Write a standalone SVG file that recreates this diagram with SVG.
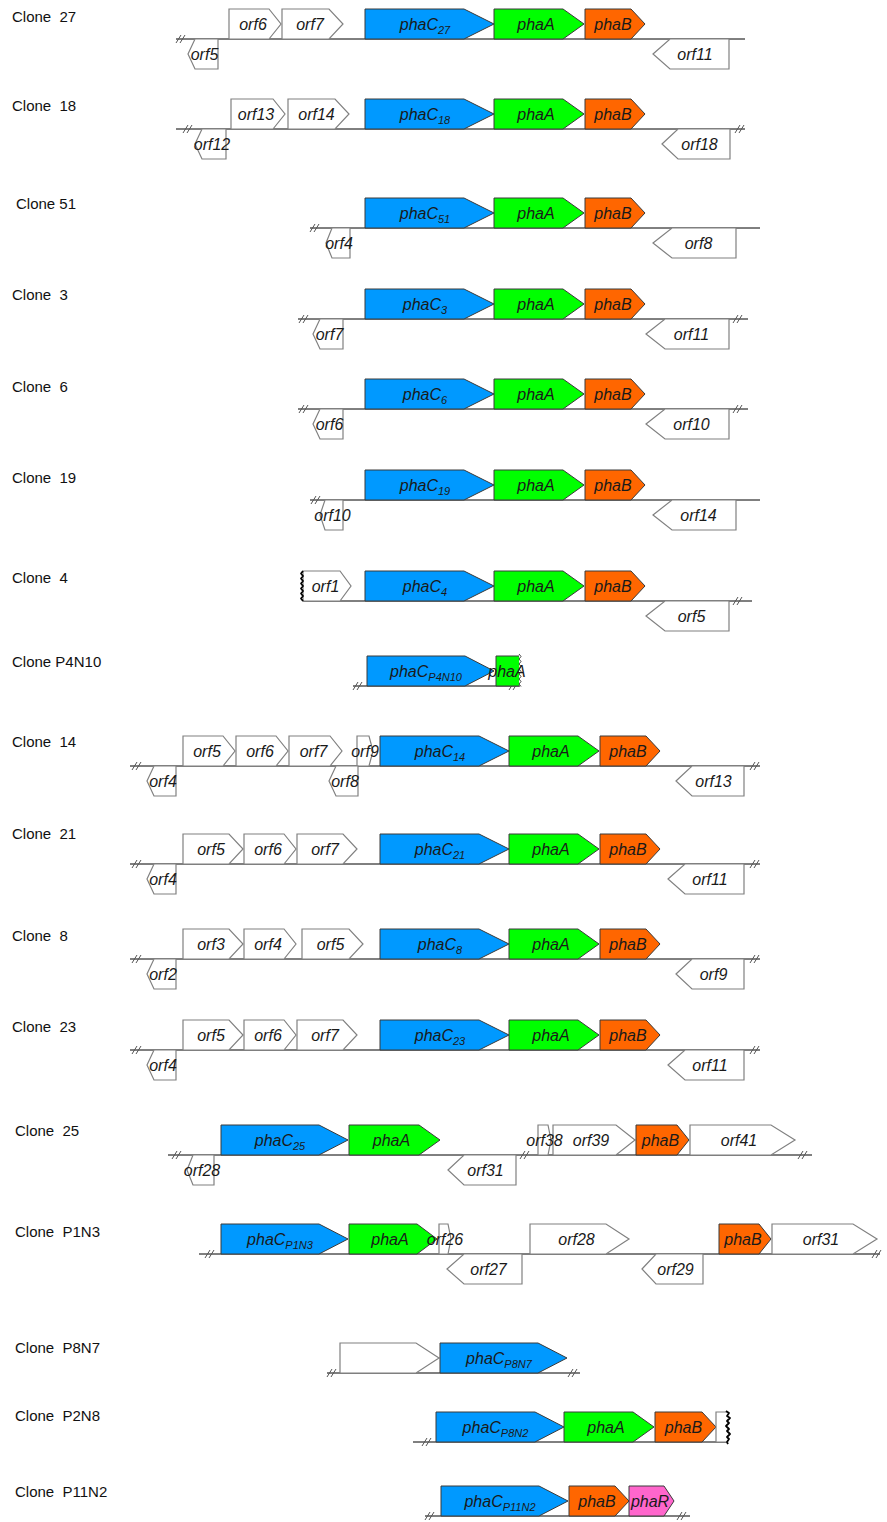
<svg xmlns="http://www.w3.org/2000/svg" width="887" height="1522" viewBox="0 0 887 1522">
<style>
  .bb{stroke:#000;stroke-width:1;fill:none}
  .brk{stroke:#555;stroke-width:1;fill:none}
  .w{fill:#fff;stroke:#808080;stroke-width:1.2}
  .c{fill:#0099ff;stroke:#3a3a3a;stroke-width:1}
  .a{fill:#00ff00;stroke:#3a3a3a;stroke-width:1}
  .b{fill:#ff6600;stroke:#3a3a3a;stroke-width:1}
  .r{fill:#ff66cc;stroke:#3a3a3a;stroke-width:1}
  .t{font-family:"Liberation Sans",Arial,sans-serif;font-style:italic;font-size:16px;fill:#1a1a1a;text-anchor:middle}
  .sub{font-size:11px}
  .lbl{font-family:"Liberation Sans",Arial,sans-serif;font-size:15px;fill:#111}
  .wave{stroke:#000;stroke-width:1.8;fill:none;stroke-linejoin:round}
  .wave2{stroke:#444;stroke-width:1;fill:none}
</style>
<defs>
  <path id="brk" class="brk" d="M-5,4 L0,-4 M-1,4 L4,-4"/>
</defs>

<!-- DNA backbones with break marks -->
<g id="backbones">
  <line class="bb" x1="176" y1="39" x2="745" y2="39"/>
  <use href="#brk" x="181" y="39"/>
  <line class="bb" x1="176" y1="129" x2="745" y2="129"/>
  <use href="#brk" x="188" y="129"/><use href="#brk" x="740" y="129"/>
  <line class="bb" x1="310" y1="228" x2="760" y2="228"/>
  <use href="#brk" x="315" y="228"/>
  <line class="bb" x1="298" y1="319" x2="748" y2="319"/>
  <use href="#brk" x="304" y="319"/><use href="#brk" x="738" y="319"/>
  <line class="bb" x1="298" y1="409" x2="748" y2="409"/>
  <use href="#brk" x="304" y="409"/><use href="#brk" x="738" y="409"/>
  <line class="bb" x1="310" y1="500" x2="760" y2="500"/>
  <use href="#brk" x="316" y="500"/>
  <line class="bb" x1="303" y1="601" x2="752" y2="601"/>
  <use href="#brk" x="738" y="601"/>
  <line class="bb" x1="353" y1="686" x2="520" y2="686"/>
  <use href="#brk" x="358" y="686"/><use href="#brk" x="514" y="686"/>
  <line class="bb" x1="130" y1="766" x2="760" y2="766"/>
  <use href="#brk" x="137" y="766"/><use href="#brk" x="755" y="766"/>
  <line class="bb" x1="130" y1="864" x2="760" y2="864"/>
  <use href="#brk" x="137" y="864"/><use href="#brk" x="755" y="864"/>
  <line class="bb" x1="130" y1="959" x2="760" y2="959"/>
  <use href="#brk" x="137" y="959"/><use href="#brk" x="755" y="959"/>
  <line class="bb" x1="130" y1="1050" x2="760" y2="1050"/>
  <use href="#brk" x="137" y="1050"/><use href="#brk" x="755" y="1050"/>
  <line class="bb" x1="168" y1="1155" x2="812" y2="1155"/>
  <use href="#brk" x="177" y="1155"/><use href="#brk" x="525" y="1155"/><use href="#brk" x="803" y="1155"/>
  <line class="bb" x1="199" y1="1254" x2="880" y2="1254"/>
  <use href="#brk" x="210" y="1254"/><use href="#brk" x="877" y="1254"/>
  <line class="bb" x1="327" y1="1373" x2="580" y2="1373"/>
  <use href="#brk" x="332" y="1373"/><use href="#brk" x="573" y="1373"/>
  <line class="bb" x1="413" y1="1442" x2="726" y2="1442"/>
  <use href="#brk" x="427" y="1442"/>
  <line class="bb" x1="425" y1="1516" x2="690" y2="1516"/>
  <use href="#brk" x="430" y="1516"/><use href="#brk" x="682" y="1516"/>
</g>

<!-- Clone 27 -->
<g id="clone-27" transform="translate(0,9)">
  <text class="lbl" x="12" y="13">Clone&#160; 27</text>
  <g id="c27-orf6"><polygon class="w" points="229,0 269,0 281,15 269,30 229,30"/><text class="t" x="253" y="20.5">orf6</text></g>
  <g id="c27-orf7"><polygon class="w" points="282,0 329,0 343,15 329,30 282,30"/><text class="t" x="310" y="20.5">orf7</text></g>
  <g id="c27-phaC"><polygon class="c" points="365,0 464,0 494,15 464,30 365,30"/><text class="t" x="425" y="20.5">phaC<tspan class="sub" dy="4">27</tspan></text></g>
  <g id="c27-phaA"><polygon class="a" points="494,0 563,0 584,15 563,30 494,30"/><text class="t" x="536" y="20.5">phaA</text></g>
  <g id="c27-phaB"><polygon class="b" points="585,0 631,0 645,15 631,30 585,30"/><text class="t" x="613" y="20.5">phaB</text></g>
  <g id="c27-orf5"><polygon class="w" points="188,45 195,30 218,30 218,60 195,60"/><text class="t" x="204.5" y="50.5">orf5</text></g>
  <g id="c27-orf11"><polygon class="w" points="653,45 670,30 729,30 729,60 670,60"/><text class="t" x="695" y="50.5">orf11</text></g>
</g>

<!-- Clone 18 -->
<g id="clone-18" transform="translate(0,99)">
  <text class="lbl" x="12" y="12">Clone&#160; 18</text>
  <g id="c18-orf13"><polygon class="w" points="231,0 273,0 285,15 273,30 231,30"/><text class="t" x="256" y="20.5">orf13</text></g>
  <g id="c18-orf14"><polygon class="w" points="288,0 335,0 349,15 335,30 288,30"/><text class="t" x="316.5" y="20.5">orf14</text></g>
  <g id="c18-phaC"><polygon class="c" points="365,0 464,0 494,15 464,30 365,30"/><text class="t" x="425" y="20.5">phaC<tspan class="sub" dy="4">18</tspan></text></g>
  <g id="c18-phaA"><polygon class="a" points="494,0 563,0 584,15 563,30 494,30"/><text class="t" x="536" y="20.5">phaA</text></g>
  <g id="c18-phaB"><polygon class="b" points="585,0 631,0 645,15 631,30 585,30"/><text class="t" x="613" y="20.5">phaB</text></g>
  <g id="c18-orf12"><polygon class="w" points="195,45 202,30 226,30 226,60 202,60"/><text class="t" x="212" y="50.5">orf12</text></g>
  <g id="c18-orf18"><polygon class="w" points="662,45 678,30 730,30 730,60 678,60"/><text class="t" x="699.5" y="50.5">orf18</text></g>
</g>

<!-- Clone 51 -->
<g id="clone-51" transform="translate(0,198)">
  <text class="lbl" x="16" y="11">Clone 51</text>
  <g id="c51-phaC"><polygon class="c" points="365,0 464,0 494,15 464,30 365,30"/><text class="t" x="425" y="20.5">phaC<tspan class="sub" dy="4">51</tspan></text></g>
  <g id="c51-phaA"><polygon class="a" points="494,0 563,0 584,15 563,30 494,30"/><text class="t" x="536" y="20.5">phaA</text></g>
  <g id="c51-phaB"><polygon class="b" points="585,0 631,0 645,15 631,30 585,30"/><text class="t" x="613" y="20.5">phaB</text></g>
  <g id="c51-orf4"><polygon class="w" points="326,45 332,30 350,30 350,60 332,60"/><text class="t" x="339" y="50.5">orf4</text></g>
  <g id="c51-orf8"><polygon class="w" points="653,45 672,30 736,30 736,60 672,60"/><text class="t" x="698.5" y="50.5">orf8</text></g>
</g>

<!-- Clone 3 -->
<g id="clone-3" transform="translate(0,289)">
  <text class="lbl" x="12" y="11">Clone&#160; 3</text>
  <g id="c3-phaC"><polygon class="c" points="365,0 464,0 494,15 464,30 365,30"/><text class="t" x="425" y="20.5">phaC<tspan class="sub" dy="4">3</tspan></text></g>
  <g id="c3-phaA"><polygon class="a" points="494,0 563,0 584,15 563,30 494,30"/><text class="t" x="536" y="20.5">phaA</text></g>
  <g id="c3-phaB"><polygon class="b" points="585,0 631,0 645,15 631,30 585,30"/><text class="t" x="613" y="20.5">phaB</text></g>
  <g id="c3-orf7"><polygon class="w" points="313,45 320,30 343,30 343,60 320,60"/><text class="t" x="329.5" y="50.5">orf7</text></g>
  <g id="c3-orf11"><polygon class="w" points="646,45 665,30 729,30 729,60 665,60"/><text class="t" x="691.5" y="50.5">orf11</text></g>
</g>

<!-- Clone 6 -->
<g id="clone-6" transform="translate(0,379)">
  <text class="lbl" x="12" y="13">Clone&#160; 6</text>
  <g id="c6-phaC"><polygon class="c" points="365,0 464,0 494,15 464,30 365,30"/><text class="t" x="425" y="20.5">phaC<tspan class="sub" dy="4">6</tspan></text></g>
  <g id="c6-phaA"><polygon class="a" points="494,0 563,0 584,15 563,30 494,30"/><text class="t" x="536" y="20.5">phaA</text></g>
  <g id="c6-phaB"><polygon class="b" points="585,0 631,0 645,15 631,30 585,30"/><text class="t" x="613" y="20.5">phaB</text></g>
  <g id="c6-orf6"><polygon class="w" points="313,45 320,30 343,30 343,60 320,60"/><text class="t" x="329.5" y="50.5">orf6</text></g>
  <g id="c6-orf10"><polygon class="w" points="646,45 665,30 729,30 729,60 665,60"/><text class="t" x="691.5" y="50.5">orf10</text></g>
</g>

<!-- Clone 19 -->
<g id="clone-19" transform="translate(0,470)">
  <text class="lbl" x="12" y="13">Clone&#160; 19</text>
  <g id="c19-phaC"><polygon class="c" points="365,0 464,0 494,15 464,30 365,30"/><text class="t" x="425" y="20.5">phaC<tspan class="sub" dy="4">19</tspan></text></g>
  <g id="c19-phaA"><polygon class="a" points="494,0 563,0 584,15 563,30 494,30"/><text class="t" x="536" y="20.5">phaA</text></g>
  <g id="c19-phaB"><polygon class="b" points="585,0 631,0 645,15 631,30 585,30"/><text class="t" x="613" y="20.5">phaB</text></g>
  <g id="c19-orf10"><polygon class="w" points="320,45 325,30 343,30 343,60 325,60"/><text class="t" x="332.5" y="50.5">orf10</text></g>
  <g id="c19-orf14"><polygon class="w" points="653,45 672,30 736,30 736,60 672,60"/><text class="t" x="698.5" y="50.5">orf14</text></g>
</g>

<!-- Clone 4 -->
<g id="clone-4" transform="translate(0,571)">
  <text class="lbl" x="12" y="12">Clone&#160; 4</text>
  <g id="c4-orf1"><polygon class="w" points="303,0 340,0 351,15 340,30 303,30"/><path class="wave" d="M303,0 l-2,2.5 l2,2.5 l-2,2.5 l2,2.5 l-2,2.5 l2,2.5 l-2,2.5 l2,2.5 l-2,2.5 l2,2.5 l-2,2.5 l2,2.5"/><text class="t" x="325.5" y="20.5">orf1</text></g>
  <g id="c4-phaC"><polygon class="c" points="365,0 464,0 494,15 464,30 365,30"/><text class="t" x="425" y="20.5">phaC<tspan class="sub" dy="4">4</tspan></text></g>
  <g id="c4-phaA"><polygon class="a" points="494,0 563,0 584,15 563,30 494,30"/><text class="t" x="536" y="20.5">phaA</text></g>
  <g id="c4-phaB"><polygon class="b" points="585,0 631,0 645,15 631,30 585,30"/><text class="t" x="613" y="20.5">phaB</text></g>
  <g id="c4-orf5"><polygon class="w" points="646,45 665,30 729,30 729,60 665,60"/><text class="t" x="691.5" y="50.5">orf5</text></g>
</g>

<!-- Clone P4N10 -->
<g id="clone-P4N10" transform="translate(0,656)">
  <text class="lbl" x="12" y="11">Clone P4N10</text>
  <g id="p4n10-phaC"><polygon class="c" points="367,0 465,0 494,15 465,30 367,30"/><text class="t" x="426" y="20.5">phaC<tspan class="sub" dy="4">P4N10</tspan></text></g>
  <g id="p4n10-phaA"><path class="a" d="M519,0 H496 V30 H519"/><path class="wave2" d="M519,-2 l2,2.5 l-2,2.5 l2,2.5 l-2,2.5 l2,2.5 l-2,2.5 l2,2.5 l-2,2.5 l2,2.5 l-2,2.5 l2,2.5 l-2,2.5 l2,2.5"/><text class="t" x="507" y="20.5">phaA</text></g>
</g>

<!-- Clone 14 -->
<g id="clone-14" transform="translate(0,736)">
  <text class="lbl" x="12" y="11">Clone&#160; 14</text>
  <g id="c14-orf5"><polygon class="w" points="183,0 223,0 235,15 223,30 183,30"/><text class="t" x="207" y="20.5">orf5</text></g>
  <g id="c14-orf6"><polygon class="w" points="236,0 276,0 288,15 276,30 236,30"/><text class="t" x="260" y="20.5">orf6</text></g>
  <g id="c14-orf7"><polygon class="w" points="289,0 330,0 342,15 330,30 289,30"/><text class="t" x="313.5" y="20.5">orf7</text></g>
  <g id="c14-phaC"><polygon class="c" points="380,0 479,0 509,15 479,30 380,30"/><text class="t" x="440" y="20.5">phaC<tspan class="sub" dy="4">14</tspan></text></g>
  <g id="c14-orf9"><polygon class="w" points="357,0 369,0 373,15 369,30 357,30"/><text class="t" x="365" y="20.5">orf9</text></g>
  <g id="c14-phaA"><polygon class="a" points="509,0 578,0 599,15 578,30 509,30"/><text class="t" x="551" y="20.5">phaA</text></g>
  <g id="c14-phaB"><polygon class="b" points="600,0 646,0 660,15 646,30 600,30"/><text class="t" x="628" y="20.5">phaB</text></g>
  <g id="c14-orf4"><polygon class="w" points="147,45 154,30 176,30 176,60 154,60"/><text class="t" x="163" y="50.5">orf4</text></g>
  <g id="c14-orf8"><polygon class="w" points="329,45 336,30 358,30 358,60 336,60"/><text class="t" x="345" y="50.5">orf8</text></g>
  <g id="c14-orf13"><polygon class="w" points="676,45 692,30 744,30 744,60 692,60"/><text class="t" x="713.5" y="50.5">orf13</text></g>
</g>

<!-- Clone 21 -->
<g id="clone-21" transform="translate(0,834)">
  <text class="lbl" x="12" y="5">Clone&#160; 21</text>
  <g id="c21-orf5"><polygon class="w" points="183,0 229,0 243,15 229,30 183,30"/><text class="t" x="211" y="20.5">orf5</text></g>
  <g id="c21-orf6"><polygon class="w" points="244,0 284,0 296,15 284,30 244,30"/><text class="t" x="268" y="20.5">orf6</text></g>
  <g id="c21-orf7"><polygon class="w" points="297,0 343,0 357,15 343,30 297,30"/><text class="t" x="325" y="20.5">orf7</text></g>
  <g id="c21-phaC"><polygon class="c" points="380,0 479,0 509,15 479,30 380,30"/><text class="t" x="440" y="20.5">phaC<tspan class="sub" dy="4">21</tspan></text></g>
  <g id="c21-phaA"><polygon class="a" points="509,0 578,0 599,15 578,30 509,30"/><text class="t" x="551" y="20.5">phaA</text></g>
  <g id="c21-phaB"><polygon class="b" points="600,0 646,0 660,15 646,30 600,30"/><text class="t" x="628" y="20.5">phaB</text></g>
  <g id="c21-orf4"><polygon class="w" points="147,45 154,30 176,30 176,60 154,60"/><text class="t" x="163" y="50.5">orf4</text></g>
  <g id="c21-orf11"><polygon class="w" points="668,45 685,30 744,30 744,60 685,60"/><text class="t" x="710" y="50.5">orf11</text></g>
</g>

<!-- Clone 8 -->
<g id="clone-8" transform="translate(0,929)">
  <text class="lbl" x="12" y="12">Clone&#160; 8</text>
  <g id="c8-orf3"><polygon class="w" points="183,0 229,0 243,15 229,30 183,30"/><text class="t" x="211" y="20.5">orf3</text></g>
  <g id="c8-orf4"><polygon class="w" points="244,0 284,0 296,15 284,30 244,30"/><text class="t" x="268" y="20.5">orf4</text></g>
  <g id="c8-orf5"><polygon class="w" points="302,0 349,0 363,15 349,30 302,30"/><text class="t" x="330.5" y="20.5">orf5</text></g>
  <g id="c8-phaC"><polygon class="c" points="380,0 479,0 509,15 479,30 380,30"/><text class="t" x="440" y="20.5">phaC<tspan class="sub" dy="4">8</tspan></text></g>
  <g id="c8-phaA"><polygon class="a" points="509,0 578,0 599,15 578,30 509,30"/><text class="t" x="551" y="20.5">phaA</text></g>
  <g id="c8-phaB"><polygon class="b" points="600,0 646,0 660,15 646,30 600,30"/><text class="t" x="628" y="20.5">phaB</text></g>
  <g id="c8-orf2"><polygon class="w" points="147,45 154,30 176,30 176,60 154,60"/><text class="t" x="163" y="50.5">orf2</text></g>
  <g id="c8-orf9"><polygon class="w" points="676,45 692,30 744,30 744,60 692,60"/><text class="t" x="713.5" y="50.5">orf9</text></g>
</g>

<!-- Clone 23 -->
<g id="clone-23" transform="translate(0,1020)">
  <text class="lbl" x="12" y="12">Clone&#160; 23</text>
  <g id="c23-orf5"><polygon class="w" points="183,0 229,0 243,15 229,30 183,30"/><text class="t" x="211" y="20.5">orf5</text></g>
  <g id="c23-orf6"><polygon class="w" points="244,0 284,0 296,15 284,30 244,30"/><text class="t" x="268" y="20.5">orf6</text></g>
  <g id="c23-orf7"><polygon class="w" points="297,0 343,0 357,15 343,30 297,30"/><text class="t" x="325" y="20.5">orf7</text></g>
  <g id="c23-phaC"><polygon class="c" points="380,0 479,0 509,15 479,30 380,30"/><text class="t" x="440" y="20.5">phaC<tspan class="sub" dy="4">23</tspan></text></g>
  <g id="c23-phaA"><polygon class="a" points="509,0 578,0 599,15 578,30 509,30"/><text class="t" x="551" y="20.5">phaA</text></g>
  <g id="c23-phaB"><polygon class="b" points="600,0 646,0 660,15 646,30 600,30"/><text class="t" x="628" y="20.5">phaB</text></g>
  <g id="c23-orf4"><polygon class="w" points="147,45 154,30 176,30 176,60 154,60"/><text class="t" x="163" y="50.5">orf4</text></g>
  <g id="c23-orf11"><polygon class="w" points="668,45 685,30 744,30 744,60 685,60"/><text class="t" x="710" y="50.5">orf11</text></g>
</g>

<!-- Clone 25 -->
<g id="clone-25" transform="translate(0,1125)">
  <text class="lbl" x="15" y="11">Clone&#160; 25</text>
  <g id="c25-phaC"><polygon class="c" points="221,0 319,0 348,15 319,30 221,30"/><text class="t" x="280" y="20.5">phaC<tspan class="sub" dy="4">25</tspan></text></g>
  <g id="c25-phaA"><polygon class="a" points="349,0 419,0 440,15 419,30 349,30"/><text class="t" x="391.5" y="20.5">phaA</text></g>
  <g id="c25-orf39"><polygon class="w" points="553,0 616,0 635,15 616,30 553,30"/><text class="t" x="591" y="20.5">orf39</text></g>
  <g id="c25-orf38"><polygon class="w" points="538,0 548,0 551,15 548,30 538,30"/><text class="t" x="544.5" y="20.5">orf38</text></g>
  <g id="c25-phaB"><polygon class="b" points="636,0 677,0 689,15 677,30 636,30"/><text class="t" x="660.5" y="20.5">phaB</text></g>
  <g id="c25-orf41"><polygon class="w" points="690,0 771,0 795,15 771,30 690,30"/><text class="t" x="739" y="20.5">orf41</text></g>
  <g id="c25-orf28"><polygon class="w" points="187,45 193,30 214,30 214,60 193,60"/><text class="t" x="202" y="50.5">orf28</text></g>
  <g id="c25-orf31"><polygon class="w" points="448,45 464,30 516,30 516,60 464,60"/><text class="t" x="485.5" y="50.5">orf31</text></g>
</g>

<!-- Clone P1N3 -->
<g id="clone-P1N3" transform="translate(0,1224)">
  <text class="lbl" x="15" y="13">Clone&#160; P1N3</text>
  <g id="p1n3-phaC"><polygon class="c" points="221,0 319,0 348,15 319,30 221,30"/><text class="t" x="280" y="20.5">phaC<tspan class="sub" dy="4">P1N3</tspan></text></g>
  <g id="p1n3-phaA"><polygon class="a" points="349,0 417,0 437,15 417,30 349,30"/><text class="t" x="390" y="20.5">phaA</text></g>
  <g id="p1n3-orf26"><polygon class="w" points="439,0 448,0 451,15 448,30 439,30"/><text class="t" x="445" y="20.5">orf26</text></g>
  <g id="p1n3-orf28"><polygon class="w" points="530,0 606,0 629,15 606,30 530,30"/><text class="t" x="576.5" y="20.5">orf28</text></g>
  <g id="p1n3-phaB"><polygon class="b" points="719,0 759,0 771,15 759,30 719,30"/><text class="t" x="743" y="20.5">phaB</text></g>
  <g id="p1n3-orf31"><polygon class="w" points="772,0 853,0 877,15 853,30 772,30"/><text class="t" x="821" y="20.5">orf31</text></g>
  <g id="p1n3-orf27"><polygon class="w" points="447,45 464,30 522,30 522,60 464,60"/><text class="t" x="488.5" y="50.5">orf27</text></g>
  <g id="p1n3-orf29"><polygon class="w" points="642,45 656,30 703,30 703,60 656,60"/><text class="t" x="675.5" y="50.5">orf29</text></g>
</g>

<!-- Clone P8N7 -->
<g id="clone-P8N7" transform="translate(0,1343)">
  <text class="lbl" x="15" y="10">Clone&#160; P8N7</text>
  <g id="p8n7-orf"><polygon class="w" points="340,0 416,0 439,15 416,30 340,30"/></g>
  <g id="p8n7-phaC"><polygon class="c" points="440,0 538,0 567,15 538,30 440,30"/><text class="t" x="499" y="20.5">phaC<tspan class="sub" dy="4">P8N7</tspan></text></g>
</g>

<!-- Clone P2N8 -->
<g id="clone-P2N8" transform="translate(0,1412)">
  <text class="lbl" x="15" y="9">Clone&#160; P2N8</text>
  <g id="p2n8-phaC"><polygon class="c" points="436,0 535,0 564,15 535,30 436,30"/><text class="t" x="495.5" y="20.5">phaC<tspan class="sub" dy="4">P8N2</tspan></text></g>
  <g id="p2n8-phaA"><polygon class="a" points="564,0 633,0 654,15 633,30 564,30"/><text class="t" x="606" y="20.5">phaA</text></g>
  <g id="p2n8-phaB"><polygon class="b" points="655,0 702,0 716,15 702,30 655,30"/><text class="t" x="683.5" y="20.5">phaB</text></g>
  <g id="p2n8-orf"><path class="w" d="M727,0 H716 V30 H727"/><path class="wave" d="M726,-1 l3,2 l-2,3 l3,2 l-3,3 l2,2 l-3,3 l3,3 l-2,2 l3,3 l-3,3 l2,2 l-2,3 l1,2"/></g>
</g>

<!-- Clone P11N2 -->
<g id="clone-P11N2" transform="translate(0,1486)">
  <text class="lbl" x="15" y="11">Clone&#160; P11N2</text>
  <g id="p11n2-phaC"><polygon class="c" points="441,0 539,0 568,15 539,30 441,30"/><text class="t" x="500" y="20.5">phaC<tspan class="sub" dy="4">P11N2</tspan></text></g>
  <g id="p11n2-phaB"><polygon class="b" points="569,0 615,0 629,15 615,30 569,30"/><text class="t" x="597" y="20.5">phaB</text></g>
  <g id="p11n2-phaR"><polygon class="r" points="629,0 664,0 674,15 664,30 629,30"/><text class="t" x="650" y="20.5">phaR</text></g>
</g>
</svg>
